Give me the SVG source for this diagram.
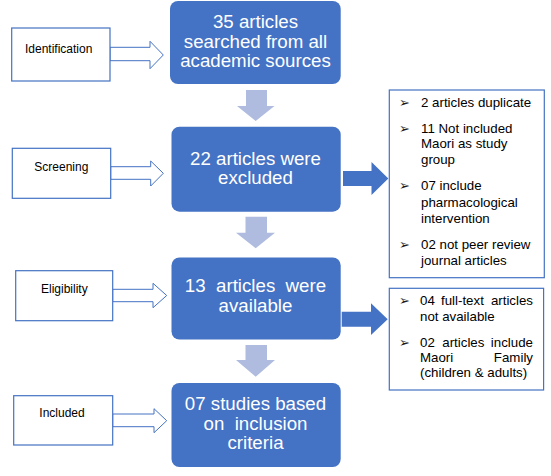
<svg xmlns="http://www.w3.org/2000/svg" width="551" height="476" viewBox="0 0 551 476">
<style>
.box{fill:#4472C4;}
.bt{font-family:"Liberation Sans",Arial,sans-serif;font-size:18.7px;fill:#fff;text-anchor:middle;white-space:pre;}
.lab{fill:#fff;stroke:#4472C4;stroke-width:1.2;}
.lt{font-family:"Liberation Sans",Arial,sans-serif;font-size:12px;fill:#000;}
.la{fill:#fff;stroke:#4472C4;stroke-width:1;}
.down{fill:#B0BCDF;}
.right{fill:#4472C4;}
.list{fill:#fff;stroke:#4472C4;stroke-width:1.2;}
.tx{font-family:"Liberation Sans",Arial,sans-serif;font-size:13.3px;fill:#000;}
.bul{font-family:"DejaVu Sans",sans-serif;font-size:13px;fill:#1a1a1a;}
</style>

<g id="connectors">
  <!-- left label arrows -->
  <polygon class="la" points="110,47.3 150,47.3 150,41.3 163.3,55 150,68.7 150,60.7 110,60.7"/>
  <polygon class="la" points="110.7,166.7 150.7,166.7 150.7,161 163.3,173.3 150.7,186 150.7,179.3 110.7,179.3"/>
  <polygon class="la" points="112.7,289.3 153,289.3 153,283.3 166.7,295.5 153,307.7 153,301.7 112.7,301.7"/>
  <polygon class="la" points="112.7,414 154,414 154,408.7 166.7,420.7 154,432.7 154,426.7 112.7,426.7"/>
  <!-- down arrows -->
  <polygon class="down" points="246,90 267,90 267,106 274.5,106 255.7,121 237,106 246,106"/>
  <polygon class="down" points="245.5,216.7 267,216.7 267,232.7 275,232.7 255.7,248.3 236,232.7 245.5,232.7"/>
  <polygon class="down" points="245.5,345 267,345 267,360 275,360 255.7,376.7 236,360 245.5,360"/>
  <!-- right arrows -->
  <polygon class="right" points="343,171 371.5,171 371.5,162 388.3,178.5 371.5,195 371.5,186 343,186"/>
  <polygon class="right" points="341.7,311.7 371,311.7 371,303.3 387.7,319.2 371,335 371,326.7 341.7,326.7"/>
</g>

<g id="identification">
  <rect class="lab" x="11.7" y="28" width="98.3" height="53"/>
  <text class="lt" x="25" y="52.7">Identification</text>
</g>
<g id="screening">
  <rect class="lab" x="12.3" y="148.3" width="98.4" height="50"/>
  <text class="lt" x="34.3" y="170.7">Screening</text>
</g>
<g id="eligibility">
  <rect class="lab" x="15.7" y="270.7" width="97" height="50"/>
  <text class="lt" x="41" y="292.7">Eligibility</text>
</g>
<g id="included">
  <rect class="lab" x="13.7" y="395.7" width="99" height="49.3"/>
  <text class="lt" x="39.3" y="416.7">Included</text>
</g>

<g id="box1">
  <rect class="box" x="170" y="1" width="170.7" height="83" rx="8"/>
  <text class="bt" x="255.5" y="28.3">35 articles</text>
  <text class="bt" x="255.5" y="48">searched from all</text>
  <text class="bt" x="255.5" y="67">academic sources</text>
</g>
<g id="box2">
  <rect class="box" x="171.5" y="126.7" width="169.2" height="85" rx="8"/>
  <text class="bt" x="255.5" y="165">22 articles were</text>
  <text class="bt" x="255.5" y="184">excluded</text>
</g>
<g id="box3">
  <rect class="box" x="171.5" y="257.5" width="169.2" height="82" rx="8"/>
  <text class="bt" x="255.5" y="292.3">13  articles  were</text>
  <text class="bt" x="255.5" y="311.7">available</text>
</g>
<g id="box4">
  <rect class="box" x="171.5" y="383" width="169.2" height="84" rx="8"/>
  <text class="bt" x="255.5" y="410">07 studies based</text>
  <text class="bt" x="255.5" y="429.5">on  inclusion</text>
  <text class="bt" x="255.5" y="448.5">criteria</text>
</g>

<g id="exclusions">
  <rect class="list" x="389.3" y="90" width="155" height="187.7"/>
  <text class="bul" x="399" y="106.5">➢</text>
  <text class="tx" x="421" y="106.7">2 articles duplicate</text>
  <text class="bul" x="399" y="132.5">➢</text>
  <text class="tx" x="421" y="132.7">11 Not included</text>
  <text class="tx" x="421" y="148.3">Maori as study</text>
  <text class="tx" x="421" y="163.5">group</text>
  <text class="bul" x="399" y="190">➢</text>
  <text class="tx" x="421" y="190">07 include</text>
  <text class="tx" x="421" y="206.5">pharmacological</text>
  <text class="tx" x="421" y="222.5">intervention</text>
  <text class="bul" x="399" y="249">➢</text>
  <text class="tx" x="421" y="249.3">02 not peer review</text>
  <text class="tx" x="421" y="264.5">journal articles</text>
</g>

<g id="unavailable">
  <rect class="list" x="389.3" y="288.3" width="154.3" height="101.7"/>
  <text class="bul" x="399" y="305">➢</text>
  <text class="tx" x="420" y="305">04</text>
  <text class="tx" x="441" y="305">full-text</text>
  <text class="tx" x="533" y="305" text-anchor="end">articles</text>
  <text class="tx" x="420" y="320.5">not available</text>
  <text class="bul" x="399" y="346.5">➢</text>
  <text class="tx" x="420" y="346.7">02</text>
  <text class="tx" x="442.3" y="346.7">articles</text>
  <text class="tx" x="533" y="346.7" text-anchor="end">include</text>
  <text class="tx" x="420" y="361.7">Maori</text>
  <text class="tx" x="533" y="361.7" text-anchor="end">Family</text>
  <text class="tx" x="420" y="376.7">(children &amp; adults)</text>
</g>
</svg>
